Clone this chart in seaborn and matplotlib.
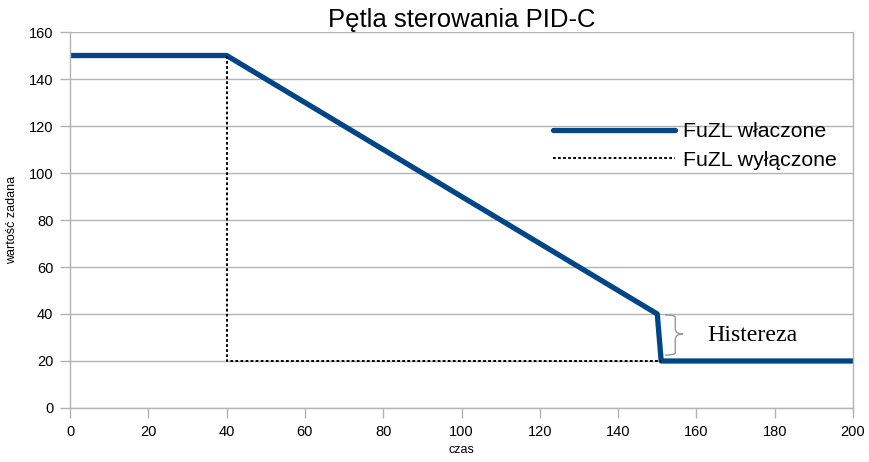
import numpy as np
import pandas as pd
import seaborn as sns
import matplotlib.pyplot as plt
from matplotlib.path import Path
from matplotlib.patches import PathPatch

# data
czas_wl = [0, 40, 150, 151, 200]
zadana_wl = [150, 150, 40, 20, 20]
czas_wyl = [40, 40, 151]
zadana_wyl = [150, 20, 20]
x_ticks = list(range(0, 201, 20))
y_ticks = list(range(0, 161, 20))

sns.set_style("white")
plt.rcParams['font.family'] = ['Liberation Sans', 'DejaVu Sans']
plt.rcParams['text.color'] = 'black'

fig = plt.figure(figsize=(8.69, 4.62), dpi=100)
ax = fig.add_axes([0.0806, 0.1169, 0.901, 0.8138])

grey = '#b3b3b3'
sns.lineplot(x=czas_wl, y=zadana_wl, sort=False, estimator=None, ax=ax,
             color='#004586', linewidth=3.8, label='FuZL właczone')
sns.lineplot(x=czas_wyl, y=zadana_wyl, sort=False, estimator=None, ax=ax,
             color='black', linewidth=1.4, linestyle=(0, (1.4, 1.2)),
             label='FuZL wyłączone')

ax.set_xlim(0, 200)
ax.set_ylim(0, 160)
ax.set_xticks(x_ticks)
ax.set_yticks(y_ticks)
ax.yaxis.grid(True, color=grey, linewidth=1)
ax.xaxis.grid(False)
ax.set_axisbelow(True)
ax.spines['top'].set_visible(False)
for side in ['left', 'bottom', 'right']:
    ax.spines[side].set_color(grey)
    ax.spines[side].set_linewidth(1)
ax.tick_params(axis='both', length=7, color=grey, width=1, labelsize=10.5,
               labelcolor='black', direction='out', pad=5,
               bottom=True, left=True)

ax.set_title('Pętla sterowania PID-C', fontsize=18.5, pad=3.5, color='black')
ax.set_xlabel('czas', fontsize=9, labelpad=4, color='black')
ax.set_ylabel('wartość zadana', fontsize=9, labelpad=8, color='black')

leg = ax.legend(loc='upper left', bbox_to_anchor=(0.617, 0.76), frameon=False,
                fontsize=15.3, handlelength=5.75, handletextpad=0.38,
                labelspacing=0.45, borderpad=0, borderaxespad=0,
                labelcolor='black')

# brace for hysteresis
x0, x1 = 152.0, 156.6
ya, yb = 39.6, 22.5
ym = 31.5
xm = x1 - 2.0
verts = [(x0, ya), (xm + 0.2, ya), (xm, ya - 1.2), (xm, ym + 2.5),
         (xm, ym + 0.6), (x1 - 1.2, ym), (x1, ym),
         (x1 - 1.2, ym), (xm, ym - 0.6), (xm, ym - 2.5),
         (xm, yb + 1.2), (xm + 0.2, yb), (x0, yb)]
codes = [Path.MOVETO, Path.CURVE3, Path.CURVE3, Path.LINETO,
         Path.CURVE4, Path.CURVE4, Path.CURVE4,
         Path.CURVE4, Path.CURVE4, Path.CURVE4,
         Path.LINETO, Path.CURVE3, Path.CURVE3]
ax.add_patch(PathPatch(Path(verts, codes), fill=False, edgecolor='#999999', linewidth=1))
ax.text(162.7, 31, 'Histereza', family='Liberation Serif', fontsize=17.2,
        va='center', ha='left')

fig.savefig('out.png', dpi=100)
